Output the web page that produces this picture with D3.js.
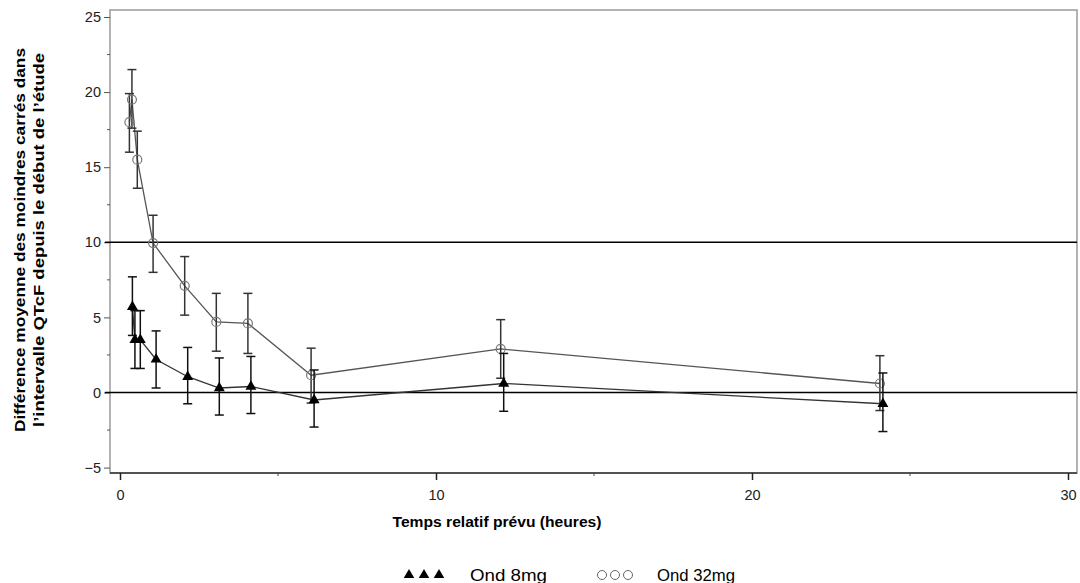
<!DOCTYPE html>
<html><head><meta charset="utf-8">
<script src="https://cdn.jsdelivr.net/npm/d3@7"></script>
<style>
body{margin:0;background:#fff;}
text{font-family:"Liberation Sans",Arial,sans-serif;}
</style></head>
<body><svg id="c" width="1080" height="583"></svg>
<script>
// ---- data ----
const times = [0.25, 0.33, 0.5, 1, 2, 3, 4, 6, 12, 24];
const mean32 = [18.0, 19.5, 15.5, 9.95, 7.1, 4.7, 4.6, 1.15, 2.9, 0.6];
const low32  = [16.0, 17.6, 13.6, 8.0, 5.15, 2.75, 2.6, -0.7, 0.95, -1.2];
const up32   = [19.9, 21.5, 17.4, 11.8, 9.05, 6.6, 6.6, 2.95, 4.85, 2.45];
const mean8  = [5.7, 3.5, 3.5, 2.2, 1.05, 0.3, 0.4, -0.5, 0.6, -0.75];
const low8   = [3.8, 1.6, 1.6, 0.3, -0.75, -1.5, -1.4, -2.3, -1.25, -2.6];
const up8    = [7.7, 5.45, 5.45, 4.1, 3.0, 2.3, 2.4, 1.5, 2.6, 1.3];
const xTicks = [0, 10, 20, 30];
const xMinor = [5, 15, 25];
const yTicks = [-5, 0, 5, 10, 15, 20, 25];
const yMinor = [-2.5, 2.5, 7.5, 12.5, 17.5, 22.5];
const refLines = [0, 10];
const seriesNames = ["Ond 8mg", "Ond 32mg"];
const xTitle = "Temps relatif prévu (heures)";
const yTitle = ["Différence moyenne des moindres carrés dans", "l’intervalle QTcF depuis le début de l’étude"];

// ---- layout ----
const svg = d3.select("#c");
const L = 110, R = 1077, T = 10, B = 473;
const x = d3.scaleLinear().domain([0, 30]).range([120, 1068]);
const y = d3.scaleLinear().domain([0, 10]).range([392.5, 242.3]);

// frame
svg.append("rect").attr("x", L).attr("y", T).attr("width", R - L).attr("height", B - T)
  .attr("fill", "none").attr("stroke", "#9a9a9a").attr("stroke-width", 1.5);
svg.append("line").attr("x1", L).attr("x2", R).attr("y1", B).attr("y2", B)
  .attr("stroke", "#333").attr("stroke-width", 1.5);

// y axis
const yAxis = d3.axisLeft(y).tickValues(yTicks).tickSize(6).tickPadding(3)
  .tickFormat(d => d < 0 ? "\u2212" + Math.abs(d) : d);
const gy = svg.append("g").attr("transform", `translate(${L},0)`).call(yAxis);
gy.select(".domain").remove();
gy.selectAll("line").attr("stroke", "#555");
gy.selectAll("text").attr("font-size", 14.5).attr("fill", "#222");
svg.append("g").selectAll("line").data(yMinor).join("line")
  .attr("x1", L - 3).attr("x2", L).attr("y1", d => y(d)).attr("y2", d => y(d)).attr("stroke", "#555");

// x axis
const xAxis = d3.axisBottom(x).tickValues(xTicks).tickSize(7).tickPadding(10);
const gx = svg.append("g").attr("transform", `translate(0,${B})`).call(xAxis);
gx.select(".domain").remove();
gx.selectAll("line").attr("stroke", "#222").attr("stroke-width", 1.5);
gx.selectAll("text").attr("font-size", 14.5).attr("fill", "#222");
svg.append("g").selectAll("line").data(xMinor).join("line")
  .attr("x1", d => x(d)).attr("x2", d => x(d)).attr("y1", B).attr("y2", B + 3).attr("stroke", "#444");

// reference lines
svg.append("g").selectAll("line").data(refLines).join("line")
  .attr("x1", L - 5).attr("x2", R).attr("y1", d => y(d)).attr("y2", d => y(d))
  .attr("stroke", "#000").attr("stroke-width", 1.5);

// series
function series(means, lows, ups, dx, lineColor, barColor, kind) {
  const pts = times.map((t, i) => ({ t, m: means[i], lo: lows[i], hi: ups[i] }));
  const px = d => x(d.t) + dx;
  svg.append("path").datum(pts)
    .attr("d", d3.line().x(px).y(d => y(d.m)))
    .attr("fill", "none").attr("stroke", lineColor).attr("stroke-width", 1.3);
  const g = svg.append("g").attr("stroke", barColor).attr("stroke-width", 1.5);
  g.selectAll(".v").data(pts).join("line")
    .attr("x1", px).attr("x2", px).attr("y1", d => y(d.lo)).attr("y2", d => y(d.hi));
  g.selectAll(".c1").data(pts).join("line")
    .attr("x1", d => px(d) - 4.5).attr("x2", d => px(d) + 4.5).attr("y1", d => y(d.lo)).attr("y2", d => y(d.lo));
  g.selectAll(".c2").data(pts).join("line")
    .attr("x1", d => px(d) - 4.5).attr("x2", d => px(d) + 4.5).attr("y1", d => y(d.hi)).attr("y2", d => y(d.hi));
  if (kind === "circle") {
    svg.append("g").selectAll("circle").data(pts).join("circle")
      .attr("cx", px).attr("cy", d => y(d.m)).attr("r", 4.5)
      .attr("fill", "none").attr("stroke", "#777").attr("stroke-width", 1.2);
  } else {
    const sym = d3.symbol().type(d3.symbolTriangle).size(52);
    svg.append("g").selectAll("path").data(pts).join("path")
      .attr("d", sym).attr("transform", d => `translate(${px(d)},${y(d.m)})`).attr("fill", "#000");
  }
}
series(mean32, low32, up32, 1.5, "#555", "#333", "circle");
series(mean8, low8, up8, 4.5, "#333", "#111", "triangle");

// titles
svg.append("text").attr("x", 497).attr("y", 527).attr("text-anchor", "middle")
  .attr("font-size", 14).attr("font-weight", "bold")
  .attr("textLength", 209).attr("lengthAdjust", "spacingAndGlyphs").text(xTitle);
const yt = svg.append("text").attr("transform", "translate(0,240) rotate(-90)")
  .attr("text-anchor", "middle").attr("font-size", 14).attr("font-weight", "bold");
yt.append("tspan").attr("x", 0).attr("y", 25)
  .attr("textLength", 384).attr("lengthAdjust", "spacingAndGlyphs").text(yTitle[0]);
yt.append("tspan").attr("x", 0).attr("y", 44)
  .attr("textLength", 374).attr("lengthAdjust", "spacingAndGlyphs").text(yTitle[1]);

// legend
const legY = 575;
const tri = d3.symbol().type(d3.symbolTriangle).size(48);
[409, 424, 439].forEach(cx => svg.append("path").attr("d", tri)
  .attr("transform", `translate(${cx},${legY})`).attr("fill", "#000"));
svg.append("text").attr("x", 470).attr("y", legY + 6).attr("font-size", 16)
  .attr("textLength", 77).attr("lengthAdjust", "spacingAndGlyphs").text(seriesNames[0]);
[602, 615, 628].forEach(cx => svg.append("circle").attr("cx", cx).attr("cy", legY).attr("r", 4.5)
  .attr("fill", "none").attr("stroke", "#666").attr("stroke-width", 1));
svg.append("text").attr("x", 657).attr("y", legY + 6).attr("font-size", 16)
  .attr("textLength", 78).attr("lengthAdjust", "spacingAndGlyphs").text(seriesNames[1]);
</script></body></html>
